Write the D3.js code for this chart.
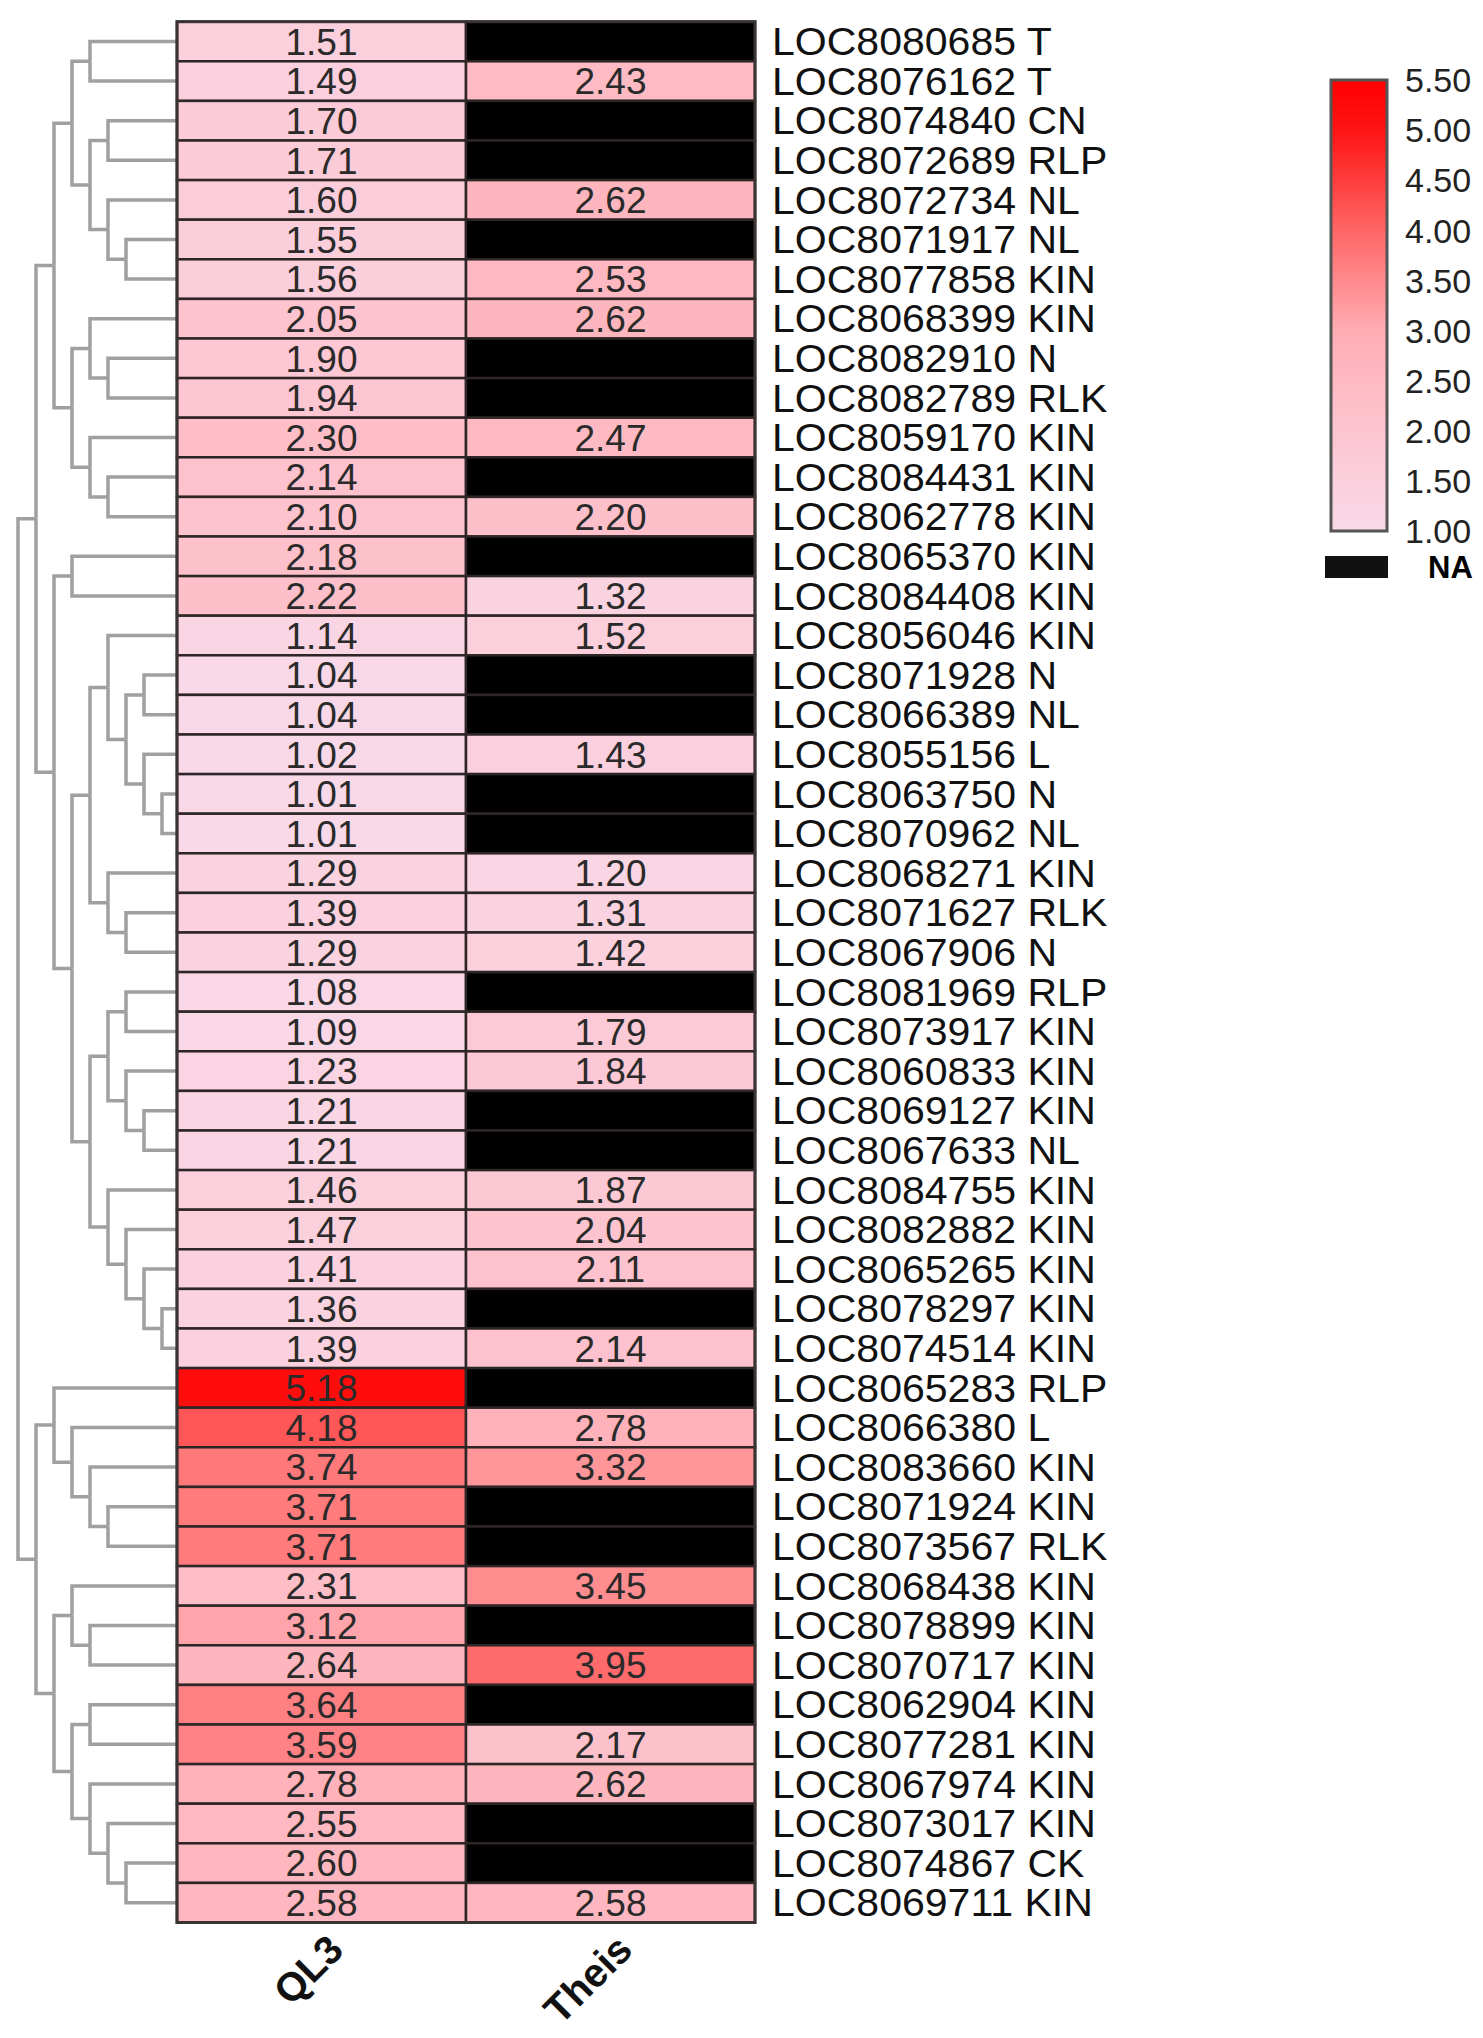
<!DOCTYPE html>
<html>
<head>
<meta charset="utf-8">
<title>Heatmap QL3 / Theis</title>
<script src="https://d3js.org/d3.v7.min.js"></script>
<style>
    body { margin: 0; background: #fff; }
    svg { display: block; font-family: "Liberation Sans", Arial, sans-serif; }
    .link { fill: none; stroke: #a0a0a0; stroke-width: 3.5; }
    .cell { stroke: #2e2626; stroke-width: 2.5; }
    .val { font-size: 37px; fill: #2a2a2a; text-anchor: middle; }
    .gene { font-size: 38px; fill: #111; }
    .col-label { font-size: 40px; font-weight: bold; fill: #111; }
    .legend-tick { font-size: 34px; fill: #222; }
</style>
</head>
<body>
<div id="chart"></div>
<script>
// row labels, top to bottom
const genes = [
    "LOC8080685 T", "LOC8076162 T", "LOC8074840 CN", "LOC8072689 RLP", "LOC8072734 NL",
    "LOC8071917 NL", "LOC8077858 KIN", "LOC8068399 KIN", "LOC8082910 N", "LOC8082789 RLK",
    "LOC8059170 KIN", "LOC8084431 KIN", "LOC8062778 KIN", "LOC8065370 KIN", "LOC8084408 KIN",
    "LOC8056046 KIN", "LOC8071928 N", "LOC8066389 NL", "LOC8055156 L", "LOC8063750 N",
    "LOC8070962 NL", "LOC8068271 KIN", "LOC8071627 RLK", "LOC8067906 N", "LOC8081969 RLP",
    "LOC8073917 KIN", "LOC8060833 KIN", "LOC8069127 KIN", "LOC8067633 NL", "LOC8084755 KIN",
    "LOC8082882 KIN", "LOC8065265 KIN", "LOC8078297 KIN", "LOC8074514 KIN", "LOC8065283 RLP",
    "LOC8066380 L", "LOC8083660 KIN", "LOC8071924 KIN", "LOC8073567 RLK", "LOC8068438 KIN",
    "LOC8078899 KIN", "LOC8070717 KIN", "LOC8062904 KIN", "LOC8077281 KIN", "LOC8067974 KIN",
    "LOC8073017 KIN", "LOC8074867 CK", "LOC8069711 KIN"
];

const ql3 = [
    1.51, 1.49, 1.70, 1.71, 1.60, 1.55, 1.56, 2.05, 1.90, 1.94,
    2.30, 2.14, 2.10, 2.18, 2.22, 1.14, 1.04, 1.04, 1.02, 1.01,
    1.01, 1.29, 1.39, 1.29, 1.08, 1.09, 1.23, 1.21, 1.21, 1.46,
    1.47, 1.41, 1.36, 1.39, 5.18, 4.18, 3.74, 3.71, 3.71, 2.31,
    3.12, 2.64, 3.64, 3.59, 2.78, 2.55, 2.60, 2.58
];

// null = NA (drawn black)
const theis = [
    null, 2.43, null, null, 2.62, null, 2.53, 2.62, null, null,
    2.47, null, 2.20, null, 1.32, 1.52, null, null, 1.43, null,
    null, 1.20, 1.31, 1.42, null, 1.79, 1.84, null, null, 1.87,
    2.04, 2.11, null, 2.14, null, 2.78, 3.32, null, null, 3.45,
    null, 3.95, null, 2.17, 2.62, null, null, 2.58
];

const columns = ["QL3", "Theis"];
const legendTicks = [5.5, 5.0, 4.5, 4.0, 3.5, 3.0, 2.5, 2.0, 1.5, 1.0];
const colorStops = [1.0, 2.0, 3.0, 4.0, 5.0, 5.5];
const colorRange = ["#f9d9e8", "#fdc5d1", "#ffadb3", "#ff6666", "#ff1414", "#ff0000"];

// dendrogram: [mergeLevel, childA, childB], numbers are row indices
const treeTopA = [7,
    [6, [5, 0, 1], [5, [4, 2, 3], [4, 4, [3, 5, 6]]]],
    [6, [5, 7, [4, 8, 9]], [5, 10, [4, 11, 12]]]];
const treeTopB = [7,
    [6, 13, 14],
    [6,
        [5, [4, 15, [3, [2, 16, 17], [2, 18, [1, 19, 20]]]], [4, 21, [3, 22, 23]]],
        [5, [4, [3, 24, 25], [3, 26, [2, 27, 28]]], [4, 29, [3, 30, [2, 31, [1, 32, 33]]]]]]];
const treeBottom = [8,
    [7, 34, [6, 35, [5, 36, [4, 37, 38]]]],
    [7, [6, 39, [5, 40, 41]], [6, [5, 42, 43], [5, 44, [4, 45, [3, 46, 47]]]]]];
const tree = [9, [8, treeTopA, treeTopB], treeBottom];

const width = 1483;
const height = 2038;
const heat = { left: 177, right: 755, top: 21.7, bottom: 1922.5 };

const svg = d3.select("#chart")
    .append("svg")
    .attr("width", width)
    .attr("height", height);

const x = d3.scaleBand()
    .domain(columns)
    .range([heat.left, heat.right]);

const y = d3.scaleBand()
    .domain(d3.range(genes.length))
    .range([heat.top, heat.bottom]);

const color = d3.scaleLinear()
    .domain(colorStops)
    .range(colorRange)
    .clamp(true);

// level 0 = leaves, sits under the heatmap edge
const xLevel = d3.scaleLinear()
    .domain([0, 9])
    .range([180, 18]);

// Dendrogram
const links = svg.append("g");

function drawNode(node) {
    if (typeof node === "number") {
        return { level: 0, y: y(node) + y.bandwidth() / 2 };
    }
    const [level, ...children] = node;
    const kids = children.map(drawNode);
    const yMid = (kids[0].y + kids[kids.length - 1].y) / 2;
    kids.forEach(k => {
        links.append("path")
            .attr("class", "link")
            .attr("d", `M${xLevel(k.level)},${k.y}H${xLevel(level)}V${yMid}`);
    });
    return { level, y: yMid };
}
drawNode(tree);

// Heatmap cells
const cells = [];
genes.forEach((g, i) => {
    cells.push({ row: i, col: "QL3", value: ql3[i] });
    cells.push({ row: i, col: "Theis", value: theis[i] });
});

svg.append("g")
    .selectAll("rect")
    .data(cells)
    .enter().append("rect")
    .attr("class", "cell")
    .attr("x", d => x(d.col))
    .attr("y", d => y(d.row))
    .attr("width", x.bandwidth())
    .attr("height", y.bandwidth())
    .attr("fill", d => d.value == null ? "#000" : color(d.value));

svg.append("g")
    .selectAll("text")
    .data(cells.filter(d => d.value != null))
    .enter().append("text")
    .attr("class", "val")
    .attr("x", d => x(d.col) + x.bandwidth() / 2)
    .attr("y", d => y(d.row) + y.bandwidth() / 2)
    .attr("dy", "0.36em")
    .text(d => d.value.toFixed(2));

// outer frame
svg.append("rect")
    .attr("x", heat.left)
    .attr("y", heat.top)
    .attr("width", heat.right - heat.left)
    .attr("height", heat.bottom - heat.top)
    .attr("fill", "none")
    .attr("stroke", "#3a3333")
    .attr("stroke-width", 3);

// Row labels
svg.append("g")
    .selectAll("text")
    .data(genes)
    .enter().append("text")
    .attr("class", "gene")
    .attr("transform", (d, i) => `translate(772,${y(i) + y.bandwidth() / 2}) scale(1.08,1)`)
    .attr("dy", "0.36em")
    .text(d => d);

// Column labels
svg.append("g")
    .selectAll("text")
    .data(columns)
    .enter().append("text")
    .attr("class", "col-label")
    .attr("text-anchor", "end")
    .attr("transform", d => `translate(${x(d) + x.bandwidth() / 2 + 24},1952) rotate(-45)`)
    .text(d => d);

// Legend
const legendY = d3.scaleLinear()
    .domain([1, 5.5])
    .range([531, 80]);

const grad = svg.append("defs")
    .append("linearGradient")
    .attr("id", "legend-grad")
    .attr("x1", 0).attr("y1", 1)
    .attr("x2", 0).attr("y2", 0);

grad.selectAll("stop")
    .data(colorStops)
    .enter().append("stop")
    .attr("offset", d => (d - 1) / 4.5)
    .attr("stop-color", d => color(d));

svg.append("rect")
    .attr("x", 1331)
    .attr("y", legendY(5.5))
    .attr("width", 56)
    .attr("height", legendY(1) - legendY(5.5))
    .attr("fill", "url(#legend-grad)")
    .attr("stroke", "#555")
    .attr("stroke-width", 3);

svg.append("g")
    .selectAll("text")
    .data(legendTicks)
    .enter().append("text")
    .attr("class", "legend-tick")
    .attr("x", 1405)
    .attr("y", d => legendY(d))
    .attr("dy", "0.36em")
    .text(d => d.toFixed(2));

svg.append("rect")
    .attr("x", 1325)
    .attr("y", 556)
    .attr("width", 63)
    .attr("height", 22)
    .attr("fill", "#111");

svg.append("text")
    .attr("x", 1428)
    .attr("y", 567)
    .attr("dy", "0.36em")
    .attr("font-size", 31)
    .attr("font-weight", "bold")
    .text("NA");
</script>
</body>
</html>
